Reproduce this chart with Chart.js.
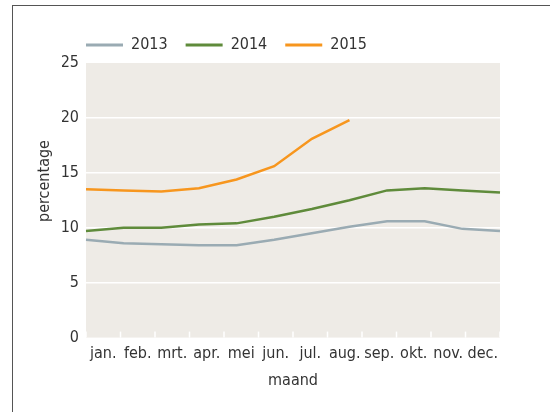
<!DOCTYPE html>
<html>
<head>
<meta charset="utf-8">
<script src="https://cdn.jsdelivr.net/npm/chart.js@4"></script>
<style>
  html, body { margin: 0; padding: 0; background: #fff; }
  #wrap { position: relative; width: 550px; height: 412px; overflow: hidden; }
  #frame { position: absolute; left: 12px; top: 5px; width: 600px; height: 500px; border: 1.5px solid #555; box-sizing: border-box; }
  #chart { position: absolute; left: 0; top: 0; }
</style>
</head>
<body>
<div id="wrap">
  <div id="frame"></div>
  <canvas id="chart" width="550" height="412"></canvas>
</div>
<script>
const months = ["jan.", "feb.", "mrt.", "apr.", "mei", "jun.", "jul.", "aug.", "sep.", "okt.", "nov.", "dec."];
const years = ["2013", "2014", "2015"];
const values2013 = [8.9, 8.6, 8.5, 8.4, 8.4, 8.9, 9.5, 10.1, 10.6, 10.6, 9.9, 9.7];
const values2014 = [9.7, 10.0, 10.0, 10.3, 10.4, 11.0, 11.7, 12.5, 13.4, 13.6, 13.4, 13.2];
const values2015 = [13.5, 13.4, 13.3, 13.6, 14.4, 15.6, 18.1, 19.8];
const yTicks = [0, 5, 10, 15, 20, 25];
const colors = ["#9aabb3", "#5f8b3b", "#f7961e"];

const fontFamily = "'Liberation Sans Narrow', 'DejaVu Sans Condensed', 'Roboto', sans-serif";
const textColor = "#333";

// grijze achtergrond van het plotvlak
const plotBackground = {
  id: "plotBackground",
  beforeDraw(chart) {
    const { ctx, chartArea } = chart;
    ctx.save();
    ctx.fillStyle = "#eeebe6";
    ctx.fillRect(chartArea.left, chartArea.top, chartArea.width, chartArea.height);
    ctx.restore();
  },
};

// legenda laten beginnen boven de linkerkant van het plotvlak
const legendShift = {
  id: "legendShift",
  afterLayout(chart) {
    chart.legend.left += 6;
  },
};

// witte streepjes onderaan tussen de maanden
const monthTicks = {
  id: "monthTicks",
  afterDraw(chart) {
    const { ctx, chartArea } = chart;
    const scale = chart.scales.x2;
    const band = scale.width / months.length;
    ctx.save();
    ctx.strokeStyle = "#ffffff";
    ctx.lineWidth = 1.5;
    for (let i = 0; i <= months.length; i++) {
      const x = scale.getPixelForTick(0) - band / 2 + i * band;
      ctx.beginPath();
      ctx.moveTo(x, chartArea.bottom - 6);
      ctx.lineTo(x, chartArea.bottom);
      ctx.stroke();
    }
    ctx.restore();
  },
};

// as-titel links
const yTitle = {
  id: "yTitle",
  afterDraw(chart) {
    const { ctx } = chart;
    ctx.save();
    ctx.translate(45, 181);
    ctx.rotate(-Math.PI / 2);
    ctx.font = "16px " + fontFamily;
    ctx.fillStyle = textColor;
    ctx.textAlign = "center";
    ctx.textBaseline = "middle";
    ctx.fillText("percentage", 0, 0);
    ctx.restore();
  },
};

function makeSet(label, data, color) {
  return {
    label: label,
    data: data,
    borderColor: color,
    backgroundColor: color,
    borderWidth: 2.5,
    pointRadius: 0,
    tension: 0,
    fill: false,
    xAxisID: "x",
  };
}

new Chart(document.getElementById("chart"), {
  type: "line",
  data: {
    labels: months,
    datasets: [
      makeSet(years[0], values2013, colors[0]),
      makeSet(years[1], values2014, colors[1]),
      makeSet(years[2], values2015, colors[2]),
    ],
  },
  plugins: [plotBackground, legendShift, monthTicks, yTitle],
  options: {
    responsive: false,
    animation: false,
    layout: { padding: { left: 62, right: 50, top: 19, bottom: 22 } },
    plugins: {
      tooltip: { enabled: false },
      legend: {
        position: "top",
        align: "start",
        labels: {
          boxWidth: 37,
          boxHeight: 3,
          padding: 18,
          color: textColor,
          font: { family: fontFamily, size: 16 },
          generateLabels(chart) {
            const items = Chart.defaults.plugins.legend.labels.generateLabels(chart);
            return items.map((it) => ({ ...it, lineWidth: 0, fillStyle: it.strokeStyle }));
          },
        },
      },
    },
    scales: {
      x: {
        type: "category",
        offset: false,
        display: false,
      },
      x2: {
        type: "category",
        labels: months,
        position: "bottom",
        offset: true,
        grid: { display: false, drawTicks: false },
        border: { display: false },
        ticks: {
          color: textColor,
          padding: 7,
          maxRotation: 0,
          autoSkip: false,
          font: { family: fontFamily, size: 16 },
        },
        title: {
          display: true,
          text: "maand",
          color: textColor,
          padding: { top: 0, bottom: 0 },
          font: { family: fontFamily, size: 16 },
        },
      },
      y: {
        min: 0,
        max: 25,
        afterBuildTicks(scale) {
          scale.ticks = yTicks.map((v) => ({ value: v }));
        },
        afterFit(scale) {
          scale.width = 24;
        },
        grid: {
          drawTicks: false,
          lineWidth: 1.5,
          color: (c) => (c.tick && (c.tick.value === 0 || c.tick.value === 25) ? "rgba(0,0,0,0)" : "#ffffff"),
        },
        border: { display: false },
        ticks: {
          color: textColor,
          padding: 7,
          font: { family: fontFamily, size: 16 },
        },
      },
    },
  },
});
</script>
</body>
</html>
